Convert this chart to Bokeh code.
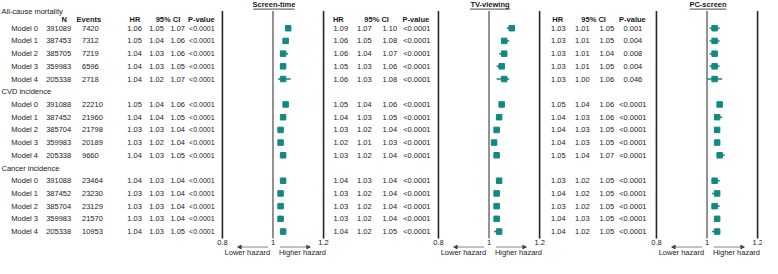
from bokeh.plotting import figure
from bokeh.models import Range1d, Arrow, NormalHead
from bokeh.core.properties import value
from bokeh.embed import file_html
from bokeh.resources import INLINE

# ---------------- data ----------------
sections = ["All-cause mortality", "CVD incidence", "Cancer incidence"]
models = ["Model 0", "Model 1", "Model 2", "Model 3", "Model 4"]

n_obs = [391089, 387453, 385705, 359983, 205338,
         391088, 387452, 385704, 359983, 205338,
         391088, 387452, 385704, 359983, 205338]
events = [7420, 7312, 7219, 6596, 2718,
          22210, 21960, 21798, 20189, 9660,
          23464, 23230, 23129, 21570, 10953]

st_hr = [1.06, 1.05, 1.04, 1.04, 1.04, 1.05, 1.04, 1.03, 1.03, 1.04, 1.04, 1.03, 1.03, 1.03, 1.04]
st_lo = [1.05, 1.04, 1.03, 1.03, 1.02, 1.04, 1.04, 1.03, 1.02, 1.03, 1.03, 1.03, 1.03, 1.03, 1.03]
st_hi = [1.07, 1.06, 1.06, 1.05, 1.07, 1.06, 1.05, 1.04, 1.04, 1.05, 1.04, 1.04, 1.04, 1.04, 1.05]
st_p = ["<0.0001"] * 15

tv_hr = [1.09, 1.06, 1.06, 1.05, 1.06, 1.05, 1.04, 1.03, 1.02, 1.03, 1.04, 1.03, 1.03, 1.03, 1.04]
tv_lo = [1.07, 1.05, 1.04, 1.03, 1.03, 1.04, 1.03, 1.02, 1.01, 1.02, 1.03, 1.02, 1.02, 1.02, 1.02]
tv_hi = [1.10, 1.08, 1.07, 1.06, 1.08, 1.06, 1.05, 1.04, 1.03, 1.04, 1.04, 1.04, 1.04, 1.04, 1.05]
tv_p = ["<0.0001"] * 15

pc_hr = [1.03, 1.03, 1.03, 1.03, 1.03, 1.05, 1.04, 1.04, 1.04, 1.05, 1.03, 1.04, 1.03, 1.04, 1.04]
pc_lo = [1.01, 1.01, 1.01, 1.01, 1.00, 1.04, 1.03, 1.03, 1.03, 1.04, 1.02, 1.02, 1.02, 1.03, 1.02]
pc_hi = [1.05, 1.05, 1.04, 1.05, 1.06, 1.06, 1.06, 1.05, 1.05, 1.07, 1.05, 1.05, 1.05, 1.05, 1.05]
pc_p = ["0.001", "0.004", "0.008", "0.004", "0.046"] + ["<0.0001"] * 10

panel_titles = ["Screen-time", "TV-viewing", "PC-screen"]
tick_values = [0.8, 1.0, 1.2]
tick_labels = ["0.8", "1", "1.2"]

# ---------------- layout / style ----------------
FONT = "Liberation Sans"
FS = "7.5px"
TXT = "#1a1a1a"
TEAL = "#138883"
LINE = "#262626"

ROW0, STEP = 31.0, 13.3
XR = (1, 777)
YR = (272, 2)

p = figure(width=762, height=258, x_range=Range1d(*XR), y_range=Range1d(*YR),
           output_backend="svg", toolbar_location=None, min_border=0)
p.axis.visible = False
p.grid.visible = False
p.outline_line_color = None
p.background_fill_color = "white"
p.border_fill_color = "white"

# panel pixel positions (0.8 line, 1.2 line) in reference coordinates
panels = {"st": (227, 330), "tv": (447, 550), "pc": (669, 772)}


def panel_range(px0, px1):
    s = 0.4 / (px1 - px0)
    return Range1d(0.8 - (px0 - XR[0]) * s, 0.8 + (XR[1] - px0) * s)


p.extra_x_ranges = {k: panel_range(*v) for k, v in panels.items()}


def txt(xs, ys, texts, align="left", bold=False, size=FS, rn="default"):
    p.text(x=xs, y=ys, text=texts, text_font=value(FONT), text_font_size=size,
           text_align=align, text_baseline="middle", text_color=TXT,
           text_font_style="bold" if bold else "normal", x_range_name=rn)


row_y = []
for s in range(len(sections)):
    for m in range(len(models)):
        row_y.append(ROW0 + STEP * (s * 6 + m))
title_y = [13.0] + [ROW0 + STEP * (s * 6 - 1) for s in range(1, len(sections))]
HEAD_Y = 22.0

# section titles
txt([2] * 3, title_y, sections)

# left table
nrow = len(row_y)
txt([12] * nrow, row_y, models * 3)
txt([73] * nrow, row_y, [str(v) for v in n_obs], align="right")
txt([84] * nrow, row_y, [str(v) for v in events])
txt([137.5] * nrow, row_y, [f"{v:.2f}" for v in st_hr], align="center")
txt([160] * nrow, row_y, [f"{v:.2f}" for v in st_lo], align="center")
txt([181.5] * nrow, row_y, [f"{v:.2f}" for v in st_hi], align="center")
txt([219] * nrow, row_y, st_p, align="right", size="7px")
txt([66, 91, 138, 171.5, 205.5], [HEAD_Y] * 5, ["N", "Events", "HR", "95% CI", "P-value"],
    align="center", bold=True)

# middle table (TV-viewing)
txt([347.5] * nrow, row_y, [f"{v:.2f}" for v in tv_hr], align="center")
txt([371.5] * nrow, row_y, [f"{v:.2f}" for v in tv_lo], align="center")
txt([397.5] * nrow, row_y, [f"{v:.2f}" for v in tv_hi], align="center")
txt([425] * nrow, row_y, tv_p, align="center")
txt([345, 384, 424], [HEAD_Y] * 3, ["HR", "95% CI", "P-value"], align="center", bold=True)

# right table (PC-screen)
txt([569] * nrow, row_y, [f"{v:.2f}" for v in pc_hr], align="center")
txt([593.5] * nrow, row_y, [f"{v:.2f}" for v in pc_lo], align="center")
txt([618.5] * nrow, row_y, [f"{v:.2f}" for v in pc_hi], align="center")
txt([645] * nrow, row_y, pc_p, align="center")
txt([568.5, 605, 644.5], [HEAD_Y] * 3, ["HR", "95% CI", "P-value"], align="center", bold=True)

# forest panels
title_w = {"st": 42, "tv": 41, "pc": 37}
for (key, (px0, px1)), ttl, hr, lo, hi in zip(panels.items(), panel_titles,
                                               [st_hr, tv_hr, pc_hr],
                                               [st_lo, tv_lo, pc_lo],
                                               [st_hi, tv_hi, pc_hi]):
    cx = (px0 + px1) / 2
    # title + underline
    txt([cx + 1], [6.5], [ttl], align="center", bold=True)
    p.segment(x0=[cx + 1 - title_w[key] / 2], x1=[cx + 1 + title_w[key] / 2],
              y0=[11], y1=[11], line_color=TXT, line_width=0.8)
    # vertical reference lines
    p.segment(x0=tick_values, x1=tick_values, y0=[13] * 3, y1=[251] * 3,
              line_color=LINE, line_width=[1.6, 1.0, 1.6], x_range_name=key)
    # tick labels
    txt(tick_values, [255] * 3, tick_labels, align="center", rn=key)
    # CI whiskers and point estimates
    p.segment(x0=lo, x1=hi, y0=row_y, y1=row_y, line_color=TEAL, line_width=1.5,
              x_range_name=key)
    p.scatter(x=hr, y=row_y, marker="square", size=5.5, fill_color=TEAL,
              line_color=TEAL, x_range_name=key)
    # direction arrows and labels
    p.add_layout(Arrow(end=NormalHead(size=3.5, fill_color="#444", line_color="#444"),
                       x_start=cx - 5, y_start=260, x_end=cx - 36, y_end=260,
                       line_color="#666", line_width=0.8))
    p.add_layout(Arrow(end=NormalHead(size=3.5, fill_color="#444", line_color="#444"),
                       x_start=cx + 7, y_start=260, x_end=cx + 38, y_end=260,
                       line_color="#666", line_width=0.8))
    txt([cx - 3], [266], ["Lower hazard"], align="right")
    txt([cx + 6], [266], ["Higher hazard"], align="left")

open("out.html", "w").write(file_html(p, INLINE))
